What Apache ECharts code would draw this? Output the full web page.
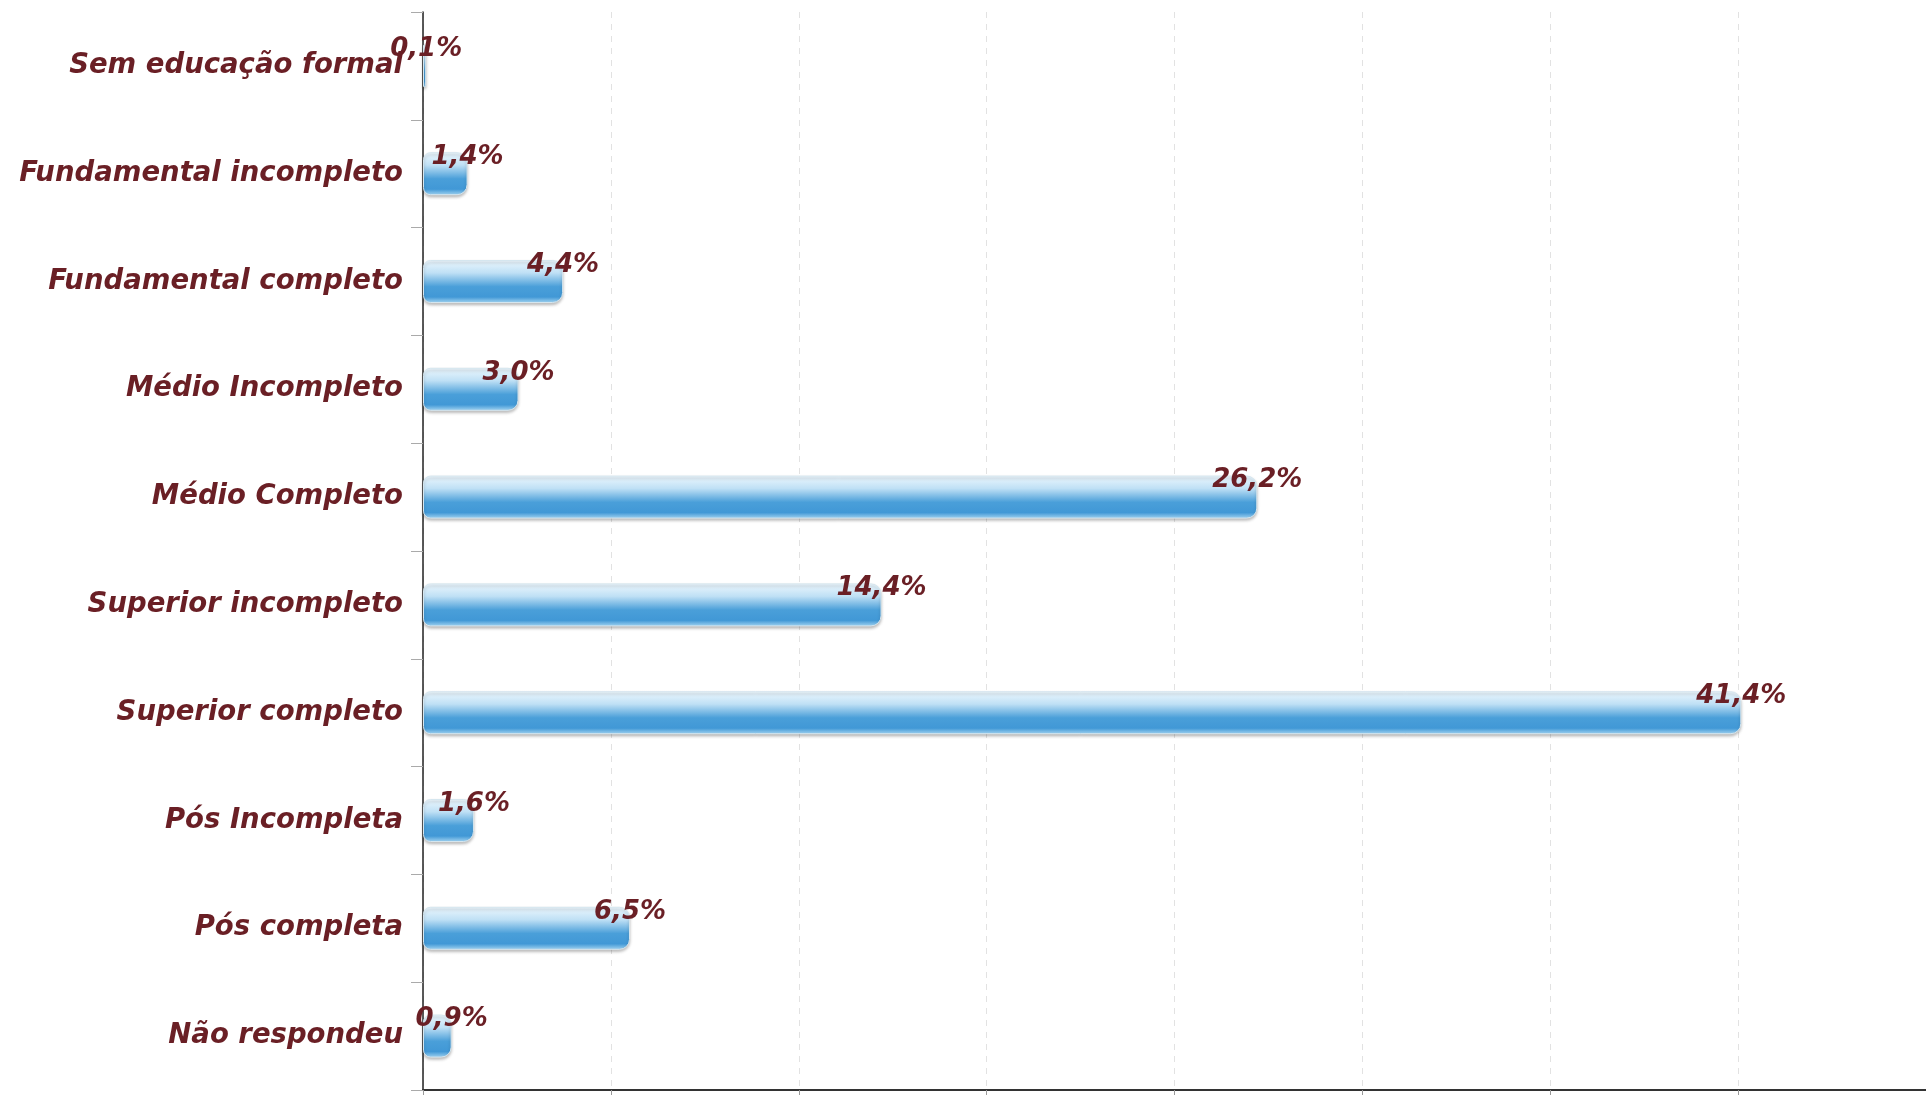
<!DOCTYPE html>
<html>
<head>
<meta charset="utf-8">
<script src="https://cdn.jsdelivr.net/npm/echarts@6/dist/echarts.min.js"></script>
<style>
html,body{margin:0;padding:0;background:#fff;}
#chart{width:1926px;height:1096px;}
</style>
</head>
<body>
<div id="chart"></div>
<script>
const categories = [
  'Sem educação formal',
  'Fundamental incompleto',
  'Fundamental completo',
  'Médio Incompleto',
  'Médio Completo',
  'Superior incompleto',
  'Superior completo',
  'Pós Incompleta',
  'Pós completa',
  'Não respondeu'
];
const values = [0.1, 1.4, 4.4, 3.0, 26.2, 14.4, 41.4, 1.6, 6.5, 0.9];

const textColor = '#6a1f25';
const chart = echarts.init(document.getElementById('chart'), null, {renderer: 'canvas'});
chart.setOption({
  backgroundColor: '#ffffff',
  animation: false,
  grid: {left: 423, right: 0, top: 12, bottom: 6, containLabel: false},
  xAxis: {
    type: 'value',
    min: 0,
    max: 47.2,
    interval: 5.9,
    axisLine: {show: true, lineStyle: {color: '#333', width: 2}},
    axisTick: {show: true, length: 5, lineStyle: {color: '#999'}},
    axisLabel: {show: false},
    splitLine: {show: true, lineStyle: {color: '#e2e2e2', type: [6, 6], width: 1}}
  },
  yAxis: {
    type: 'category',
    inverse: true,
    data: categories,
    axisLine: {show: true, lineStyle: {color: '#222', width: 1.5}},
    axisTick: {show: true, length: 12, lineStyle: {color: '#aaa'}},
    axisLabel: {
      margin: 20,
      color: textColor,
      fontFamily: 'DejaVu Sans',
      fontStyle: 'italic',
      fontWeight: 'bold',
      fontSize: 27.5,
      padding: [0, 0, 8, 0]
    },
    splitLine: {show: false}
  },
  series: [{
    type: 'bar',
    data: values,
    barWidth: 43,
    itemStyle: {
      color: new echarts.graphic.LinearGradient(0, 0, 0, 1, [
        {offset: 0, color: '#eef8fe'},
        {offset: 0.3, color: '#bfe0f5'},
        {offset: 0.62, color: '#4a9fd9'},
        {offset: 0.86, color: '#4198d6'},
        {offset: 1, color: '#a6d6f2'}
      ]),
      borderColor: '#d5e6ef',
      borderWidth: 1,
      borderRadius: [7, 10, 10, 7],
      shadowColor: 'rgba(0,0,0,0.25)',
      shadowBlur: 3,
      shadowOffsetY: 2
    },
    label: {
      show: true,
      position: ['100%', 0],
      align: 'center',
      verticalAlign: 'middle',
      offset: [0, 5],
      color: textColor,
      fontFamily: 'DejaVu Sans',
      fontStyle: 'italic',
      fontWeight: 'bold',
      fontSize: 26,
      formatter: function (p) { return p.value.toFixed(1).replace('.', ',') + '%'; }
    }
  }]
});
</script>
</body>
</html>
